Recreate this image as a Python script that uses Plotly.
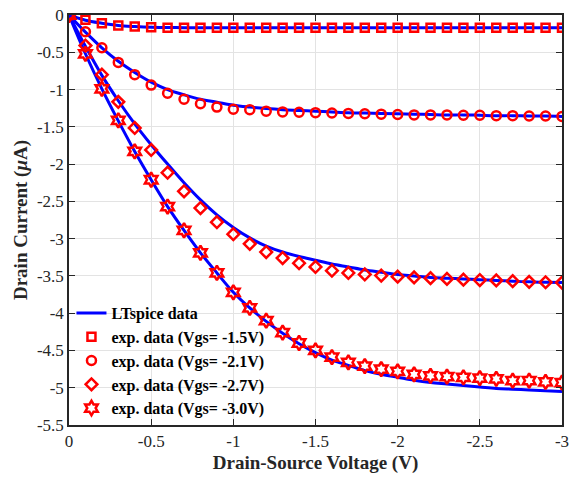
import plotly.graph_objects as go

vds = [0, -0.1, -0.2, -0.3, -0.4, -0.5, -0.6, -0.7, -0.8, -0.9, -1.0,
       -1.1, -1.2, -1.3, -1.4, -1.5, -1.6, -1.7, -1.8, -1.9, -2.0,
       -2.1, -2.2, -2.3, -2.4, -2.5, -2.6, -2.7, -2.8, -2.9, -3.0]

# LTspice simulated curves (uA)
sim_15 = [0, -0.07, -0.11, -0.14, -0.155, -0.165, -0.168, -0.17, -0.17, -0.17, -0.17,
          -0.17, -0.17, -0.17, -0.17, -0.17, -0.17, -0.17, -0.17, -0.17, -0.17,
          -0.17, -0.17, -0.17, -0.17, -0.17, -0.17, -0.17, -0.17, -0.17, -0.17]
sim_21 = [0, -0.23, -0.44, -0.62, -0.77, -0.90, -1.00, -1.07, -1.13, -1.17, -1.21,
          -1.235, -1.255, -1.27, -1.28, -1.29, -1.30, -1.31, -1.315, -1.32, -1.325,
          -1.33, -1.335, -1.34, -1.34, -1.345, -1.35, -1.35, -1.355, -1.355, -1.36]
sim_27 = [0, -0.42, -0.81, -1.15, -1.46, -1.74, -2.00, -2.25, -2.48, -2.68, -2.85,
          -2.99, -3.10, -3.18, -3.24, -3.29, -3.34, -3.38, -3.42, -3.45, -3.48,
          -3.50, -3.52, -3.53, -3.54, -3.55, -3.56, -3.57, -3.58, -3.585, -3.59]
sim_30 = [0, -0.52, -0.99, -1.42, -1.83, -2.21, -2.57, -2.89, -3.19, -3.46, -3.72,
          -3.93, -4.11, -4.27, -4.41, -4.53, -4.63, -4.70, -4.77, -4.82, -4.86,
          -4.90, -4.93, -4.95, -4.97, -4.99, -5.01, -5.02, -5.03, -5.04, -5.05]

# Experimental data (uA)
exp_15 = [0, -0.065, -0.11, -0.14, -0.155, -0.165, -0.17, -0.17, -0.17, -0.17, -0.17,
          -0.17, -0.17, -0.17, -0.17, -0.17, -0.17, -0.17, -0.17, -0.17, -0.17,
          -0.17, -0.17, -0.17, -0.17, -0.17, -0.17, -0.17, -0.17, -0.17, -0.17]
exp_21 = [0, -0.224, -0.44, -0.636, -0.80, -0.94, -1.05, -1.13, -1.19, -1.235, -1.265,
          -1.27, -1.29, -1.30, -1.305, -1.31, -1.315, -1.32, -1.325, -1.33, -1.335,
          -1.34, -1.34, -1.34, -1.345, -1.345, -1.35, -1.35, -1.355, -1.355, -1.36]
exp_27 = [0, -0.41, -0.80, -1.165, -1.515, -1.81, -2.115, -2.365, -2.59, -2.78, -2.94,
          -3.07, -3.18, -3.26, -3.33, -3.38, -3.43, -3.46, -3.48, -3.495, -3.51,
          -3.52, -3.53, -3.54, -3.55, -3.555, -3.56, -3.57, -3.58, -3.585, -3.59]
exp_30 = [0, -0.52, -0.99, -1.415, -1.83, -2.21, -2.57, -2.89, -3.19, -3.46, -3.72,
          -3.93, -4.10, -4.26, -4.40, -4.50, -4.59, -4.66, -4.71, -4.75, -4.78,
          -4.82, -4.84, -4.85, -4.86, -4.87, -4.88, -4.905, -4.905, -4.92, -4.93]

x_ticks = [0, -0.5, -1, -1.5, -2, -2.5, -3]
x_tick_text = ["0", "-0.5", "-1", "-1.5", "-2", "-2.5", "-3"]
y_ticks = [0, -0.5, -1, -1.5, -2, -2.5, -3, -3.5, -4, -4.5, -5, -5.5]
y_tick_text = ["0", "-0.5", "-1", "-1.5", "-2", "-2.5", "-3", "-3.5", "-4", "-4.5", "-5", "-5.5"]

legend_names = ["exp. data (Vgs= -1.5V)", "exp. data (Vgs= -2.1V)",
                "exp. data (Vgs= -2.7V)", "exp. data (Vgs= -3.0V)"]

FONT = "Liberation Serif, Times New Roman, serif"
BLUE = "#0000ff"
RED = "#ff0000"
TXT = "#262626"

fig = go.Figure()

sims = [sim_15, sim_21, sim_27, sim_30]
for i, s in enumerate(sims):
    fig.add_trace(go.Scatter(
        x=vds, y=s, mode="lines", line=dict(color=BLUE, width=3, shape="spline"),
        name="LTspice data", showlegend=(i == 0)))

exps = [exp_15, exp_21, exp_27, exp_30]
symbols = ["square-open", "circle-open", "diamond-open", "hexagram-open"]
sizes = [8, 9, 9, 11]
for e, sym, sz, nm in zip(exps, symbols, sizes, legend_names):
    fig.add_trace(go.Scatter(
        x=vds, y=e, mode="markers", name=nm,
        marker=dict(symbol=sym, size=sz, color=RED, line=dict(color=RED, width=2.5))))

axis_common = dict(
    showgrid=True, gridcolor="#e3e3e3", gridwidth=1,
    showline=True, linecolor=TXT, linewidth=1.5, mirror="ticks",
    ticks="inside", ticklen=6, tickcolor=TXT, tickwidth=1,
    zeroline=False, automargin=False, ticklabeloverflow="allow",
    tickfont=dict(family=FONT, size=17, color=TXT),
)

# white backdrop behind the legend (covers grid, stays under the data)
fig.add_shape(type="rect", xref="paper", yref="paper",
              x0=0.003, x1=0.43, y0=0.004, y1=0.29,
              fillcolor="white", line=dict(width=0), layer="between")

fig.update_layout(
    width=569, height=479,
    margin=dict(l=69, r=7, t=15, b=54),
    paper_bgcolor="white", plot_bgcolor="white",
    font=dict(family=FONT, color=TXT),
    xaxis=dict(range=[0, -3], tickvals=x_ticks, ticktext=x_tick_text,
               title=dict(text="<b>Drain-Source Voltage (V)</b>",
                          font=dict(family=FONT, size=19, color=TXT), standoff=6),
               **axis_common),
    yaxis=dict(range=[-5.5, 0], tickvals=y_ticks, ticktext=y_tick_text,
               title=dict(text="<b>Drain Current (<i>μ</i>A)</b>",
                          font=dict(family=FONT, size=19, color=TXT), standoff=4),
               **axis_common),
    legend=dict(x=0.005, y=0.0, xanchor="left", yanchor="bottom",
                bgcolor="rgba(0,0,0,0)", borderwidth=0,
                font=dict(family=FONT, size=16, color="#000000", weight="bold"),
                tracegroupgap=0, itemwidth=30),
)

# remove the browser's default 8px body margin so the figure fills the window
fig.write_html("out.html", config={"displayModeBar": False},
               post_script="document.body.style.margin='0px';")
